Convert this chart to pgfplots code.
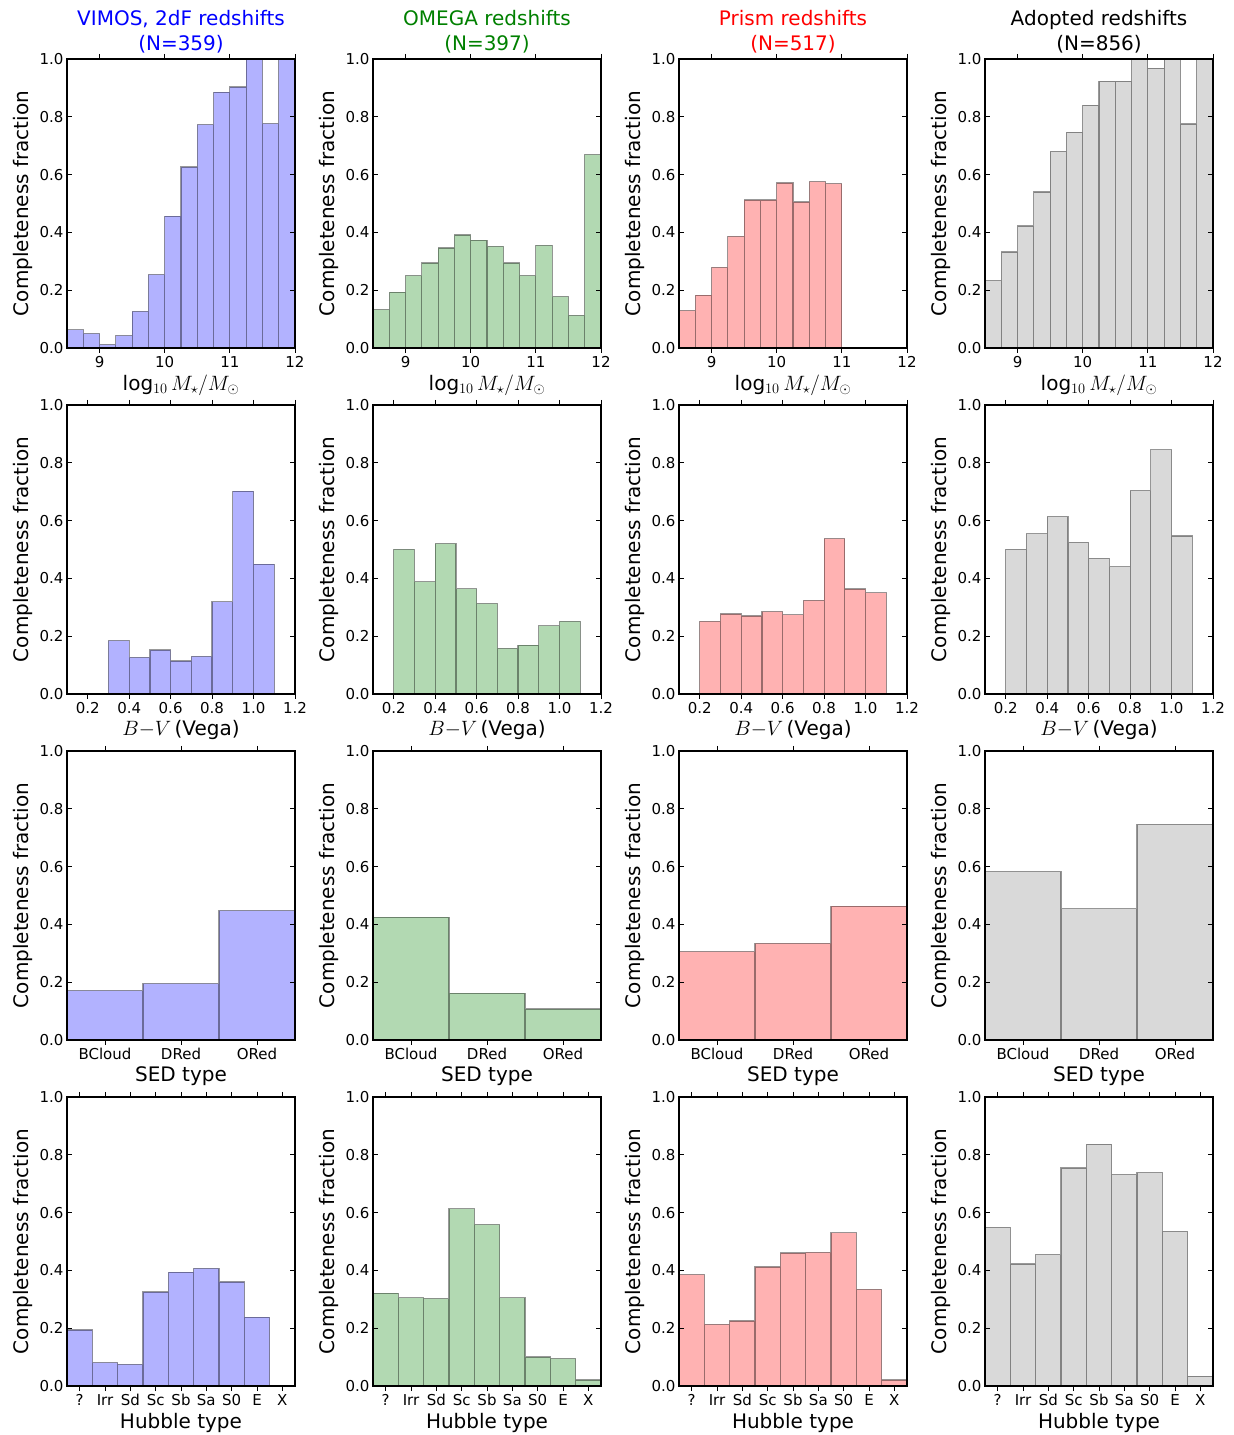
\documentclass[border=0pt]{standalone}
\usepackage{fontspec}
\setmainfont{DejaVu Sans}
\usepackage{pgfplots}
\pgfplotsset{compat=1.18}
\definecolor{mplgreen}{rgb}{0,0.5,0}
\newcommand{\tickfont}{\fontsize{15}{18}\selectfont}
\newcommand{\labfont}{\fontsize{20}{25}\selectfont}
\pgfplotsset{
  panel/.style={scale only axis, width=228pt, height=289pt, anchor=south west,
    ymin=0, ymax=1, ytick={0,0.2,0.4,0.6,0.8,1},
    yticklabel style={/pgf/number format/fixed,/pgf/number format/fixed zerofill,/pgf/number format/precision=1},
    /pgf/number format/assume math mode=true,
    tick align=inside, major tick length=5pt,
    every tick/.style={black, line width=0.8pt},
    axis line style={line width=1.2pt},
    axis on top,
    tick label style={font=\tickfont},
    label style={font=\labfont},
    title style={font=\labfont, align=center, yshift=-4pt},
    ylabel={Completeness fraction},
    ybar, bar shift=0pt},
  mass/.style={panel, xmin=8.5, xmax=12, xtick={9,10,11,12}, bar width=0.25,
    xlabel={log$_{10}\,M_\star/M_\odot$}},
  bv/.style={panel, xmin=0.1, xmax=1.2, xtick={0.2,0.4,0.6,0.8,1.0,1.2},
    xticklabel style={/pgf/number format/fixed,/pgf/number format/fixed zerofill,/pgf/number format/precision=1},
    bar width=0.1, xlabel={$B{-}V$\,(Vega)}},
  sed/.style={panel, xmin=-0.5, xmax=2.5, xtick={0,1,2}, xticklabels={BCloud,DRed,ORed},
    bar width=1, xlabel={SED type}},
  hub/.style={panel, xmin=-0.5, xmax=8.5, xtick={0,1,2,3,4,5,6,7,8},
    xticklabels={?,Irr,Sd,Sc,Sb,Sa,S0,E,X}, bar width=1, xlabel={Hubble type}},
  hist/.style={fill=#1, fill opacity=0.3, draw=black, draw opacity=0.4, line width=1.2pt},
}
\begin{document}
\begin{tikzpicture}
\useasboundingbox (0pt,0pt) rectangle (1234pt,1435pt);
% ---------------- Row 1: stellar mass ----------------
\begin{axis}[mass, at={(67pt,1087pt)}, title={VIMOS, 2dF redshifts\\(N=359)}, title style={text=blue}]
\addplot[hist=blue] coordinates {(8.625,0.063) (8.875,0.050) (9.125,0.012) (9.375,0.043) (9.625,0.127) (9.875,0.254) (10.125,0.456) (10.375,0.626) (10.625,0.773) (10.875,0.885) (11.125,0.903) (11.375,1.0) (11.625,0.776) (11.875,1.0)};
\end{axis}
\begin{axis}[mass, at={(373pt,1087pt)}, title={OMEGA redshifts\\(N=397)}, title style={text=mplgreen}]
\addplot[hist=mplgreen] coordinates {(8.625,0.133) (8.875,0.193) (9.125,0.250) (9.375,0.294) (9.625,0.346) (9.875,0.391) (10.125,0.373) (10.375,0.352) (10.625,0.294) (10.875,0.250) (11.125,0.355) (11.375,0.178) (11.625,0.113) (11.875,0.669)};
\end{axis}
\begin{axis}[mass, at={(679pt,1087pt)}, title={Prism redshifts\\(N=517)}, title style={text=red}]
\addplot[hist=red] coordinates {(8.625,0.129) (8.875,0.183) (9.125,0.279) (9.375,0.386) (9.625,0.512) (9.875,0.512) (10.125,0.571) (10.375,0.505) (10.625,0.576) (10.875,0.569)};
\end{axis}
\begin{axis}[mass, at={(985pt,1087pt)}, title={Adopted redshifts\\(N=856)}]
\addplot[hist=gray] coordinates {(8.625,0.233) (8.875,0.332) (9.125,0.422) (9.375,0.540) (9.625,0.680) (9.875,0.747) (10.125,0.840) (10.375,0.923) (10.625,0.923) (10.875,1.0) (11.125,0.968) (11.375,1.0) (11.625,0.775) (11.875,1.0)};
\end{axis}
% ---------------- Row 2: B-V ----------------
\begin{axis}[bv, at={(67pt,741pt)}]
\addplot[hist=blue] coordinates {(0.35,0.185) (0.45,0.127) (0.55,0.152) (0.65,0.114) (0.75,0.130) (0.85,0.319) (0.95,0.702) (1.05,0.449)};
\end{axis}
\begin{axis}[bv, at={(373pt,741pt)}]
\addplot[hist=mplgreen] coordinates {(0.25,0.500) (0.35,0.388) (0.45,0.520) (0.55,0.364) (0.65,0.313) (0.75,0.158) (0.85,0.169) (0.95,0.236) (1.05,0.251)};
\end{axis}
\begin{axis}[bv, at={(679pt,741pt)}]
\addplot[hist=red] coordinates {(0.25,0.251) (0.35,0.277) (0.45,0.270) (0.55,0.285) (0.65,0.274) (0.75,0.324) (0.85,0.538) (0.95,0.363) (1.05,0.350)};
\end{axis}
\begin{axis}[bv, at={(985pt,741pt)}]
\addplot[hist=gray] coordinates {(0.25,0.500) (0.35,0.554) (0.45,0.614) (0.55,0.525) (0.65,0.469) (0.75,0.440) (0.85,0.704) (0.95,0.845) (1.05,0.547)};
\end{axis}
% ---------------- Row 3: SED type ----------------
\begin{axis}[sed, at={(67pt,395pt)}]
\addplot[hist=blue] coordinates {(0,0.171) (1,0.195) (2,0.448)};
\end{axis}
\begin{axis}[sed, at={(373pt,395pt)}]
\addplot[hist=mplgreen] coordinates {(0,0.425) (1,0.162) (2,0.107)};
\end{axis}
\begin{axis}[sed, at={(679pt,395pt)}]
\addplot[hist=red] coordinates {(0,0.306) (1,0.334) (2,0.463)};
\end{axis}
\begin{axis}[sed, at={(985pt,395pt)}]
\addplot[hist=gray] coordinates {(0,0.583) (1,0.454) (2,0.746)};
\end{axis}
% ---------------- Row 4: Hubble type ----------------
\begin{axis}[hub, at={(67pt,49pt)}]
\addplot[hist=blue] coordinates {(0,0.194) (1,0.081) (2,0.075) (3,0.325) (4,0.394) (5,0.407) (6,0.360) (7,0.238)};
\end{axis}
\begin{axis}[hub, at={(373pt,49pt)}]
\addplot[hist=mplgreen] coordinates {(0,0.321) (1,0.305) (2,0.302) (3,0.613) (4,0.558) (5,0.305) (6,0.100) (7,0.095) (8,0.021)};
\end{axis}
\begin{axis}[hub, at={(679pt,49pt)}]
\addplot[hist=red] coordinates {(0,0.385) (1,0.213) (2,0.225) (3,0.412) (4,0.460) (5,0.462) (6,0.530) (7,0.334) (8,0.021)};
\end{axis}
\begin{axis}[hub, at={(985pt,49pt)}]
\addplot[hist=gray] coordinates {(0,0.549) (1,0.422) (2,0.455) (3,0.754) (4,0.837) (5,0.731) (6,0.738) (7,0.535) (8,0.034)};
\end{axis}
\end{tikzpicture}
\end{document}
